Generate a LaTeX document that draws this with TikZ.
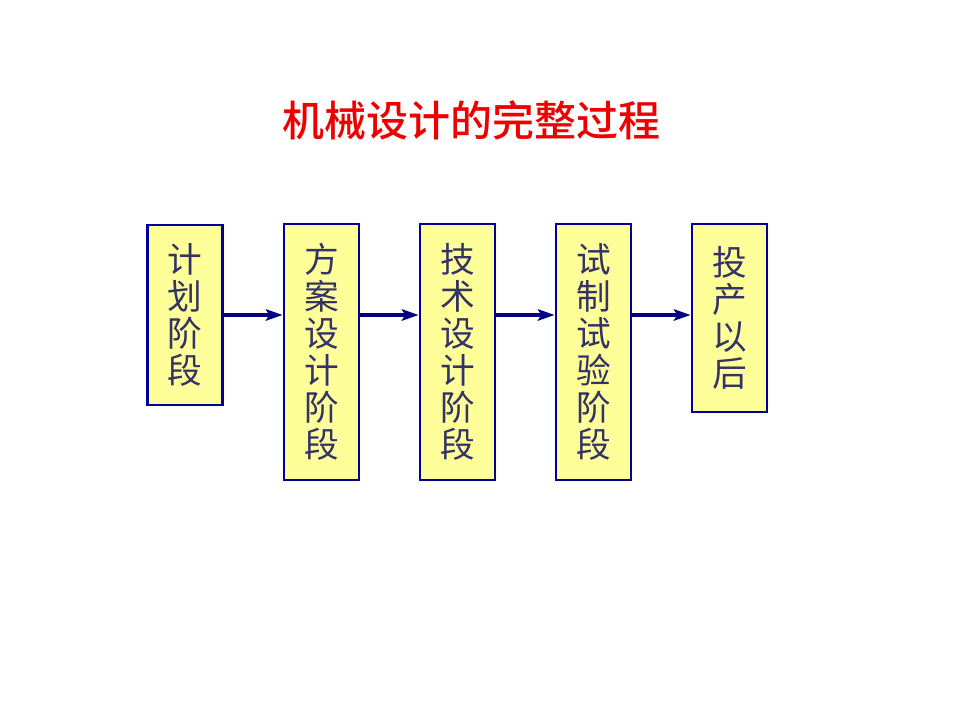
\documentclass[tikz,border=0pt]{standalone}
\usepackage{fontspec}
\newfontfamily\cjk{Noto Sans CJK SC}
\newfontfamily\cjkmid{Noto Sans CJK SC Medium}
\usetikzlibrary{arrows.meta,positioning}
\definecolor{stageFill}{HTML}{FFFF99}
\definecolor{stageLine}{HTML}{000099}
\definecolor{stageText}{HTML}{333366}
\definecolor{flowLine}{HTML}{000080}
\definecolor{titleRed}{HTML}{EE0000}
\tikzset{
  stagebox/.style={
    draw=stageLine, fill=stageFill, line width=1.9pt, inner sep=0pt,
    minimum width=56.5pt, align=center, text=stageText,
    font=\cjk\fontsize{26}{27.75}\selectfont
  },
  flowarrow/.style={-{Stealth[length=4.4mm, width=3mm, inset=0.9mm]}, line width=2.4pt, flowLine},
  titletext/.style={font=\cjkmid\fontsize{31.5}{34}\selectfont, text=titleRed}
}
\begin{document}
\begin{tikzpicture}[x=0.75pt, y=0.75pt]
  \useasboundingbox[fill=white] (0,0) rectangle (960,720);
  % title
  \node[titletext] (title) at (471,600) {机械设计的完整过程};
  % stages
  \node[stagebox, minimum height=135pt] (plan) at (185,405) {计\\划\\阶\\段};
  \node[stagebox, minimum height=192pt] (scheme) at (321.5,368) {方\\案\\设\\计\\阶\\段};
  \node[stagebox, minimum height=192pt] (tech) at (457.5,368) {技\\术\\设\\计\\阶\\段};
  \node[stagebox, minimum height=192pt] (trial) at (593.5,368) {试\\制\\试\\验\\阶\\段};
  \node[stagebox, minimum height=141pt] (prod) at (729.5,402) {投\\产\\以\\后};
  % arrows
  \draw[flowarrow] (plan.east) -- (plan.east -| scheme.west);
  \draw[flowarrow] (scheme.east |- plan.east) -- (tech.west |- plan.east);
  \draw[flowarrow] (tech.east |- plan.east) -- (trial.west |- plan.east);
  \draw[flowarrow] (trial.east |- plan.east) -- (prod.west |- plan.east);
\end{tikzpicture}
\end{document}
